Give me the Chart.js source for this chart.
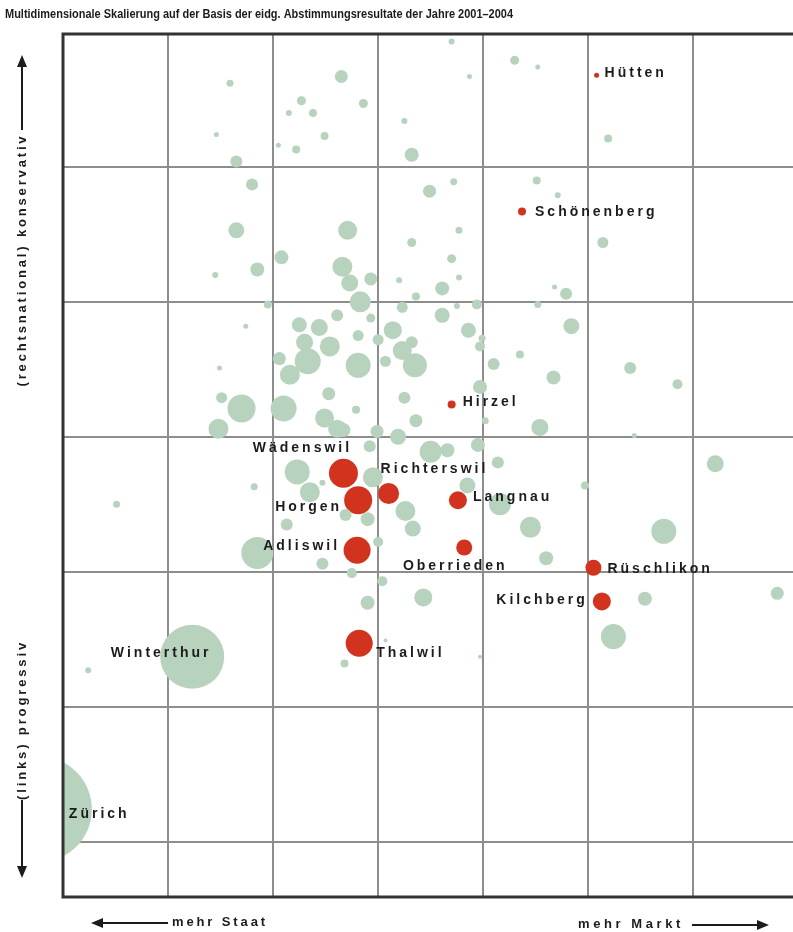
<!DOCTYPE html>
<html lang="de">
<head>
<meta charset="utf-8">
<title>Multidimensionale Skalierung</title>
<script src="https://cdn.jsdelivr.net/npm/chart.js@4.4.1/dist/chart.umd.min.js"></script>
<style>
  html, body { margin: 0; padding: 0; background: #fff; }
  #wrap { width: 793px; height: 932px; }
</style>
</head>
<body>
<div id="wrap"><canvas id="mds" width="793" height="932"></canvas></div>
<script>
// ---- data (MDS-Koordinaten, 1 Einheit = 1 Rasterfeld) ----
const chartTitle = 'Multidimensionale Skalierung auf der Basis der eidg. Abstimmungsresultate der Jahre 2001\u20132004';
const axisUp = '(rechtsnational) konservativ';
const axisDown = '(links) progressiv';
const axisLeft = 'mehr Staat';
const axisRight = 'mehr Markt';

const gridX = [1, 2, 3, 4, 5, 6];
const gridY = [0, 1, 2, 3, 4, 5];

// Bezirk Horgen (rot)
const horgenTowns = ['Hütten', 'Schönenberg', 'Hirzel', 'Wädenswil', 'Richterswil', 'Horgen',
                     'Langnau', 'Adliswil', 'Oberrieden', 'Rüschlikon', 'Kilchberg', 'Thalwil'];
const horgenX = [5.08, 4.37, 3.70, 2.67, 3.10, 2.81, 3.76, 2.80, 3.82, 5.05, 5.13, 2.82];
const horgenY = [5.68, 4.67, 3.24, 2.73, 2.58, 2.53, 2.53, 2.16, 2.18, 2.03, 1.78, 1.47];
const horgenR = [2.5, 4, 4, 14.5, 10.5, 14, 9, 13.5, 8, 8, 9, 13.5];

// grosse Städte (grün, beschriftet)
const cities = ['Winterthur', 'Zürich'];
const cityX = [1.23, -0.23];
const cityY = [1.37, 0.24];
const cityR = [32, 53];

// übrige Gemeinden [x, y, r]
const otherTowns = [
  [1.59, 5.62, 3.5], [2.65, 5.67, 6.5], [2.27, 5.49, 4.5], [2.15, 5.40, 3], [2.38, 5.40, 4],
  [2.86, 5.47, 4.5], [1.46, 5.24, 2.5], [2.49, 5.23, 4], [2.05, 5.16, 2.5], [2.22, 5.13, 4],
  [1.65, 5.04, 6], [1.80, 4.87, 6], [3.25, 5.34, 3], [3.32, 5.09, 7], [3.70, 5.93, 3],
  [3.87, 5.67, 2.5], [4.30, 5.79, 4.5], [4.52, 5.74, 2.5], [5.19, 5.21, 4], [3.49, 4.82, 6.5],
  [3.72, 4.89, 3.5], [4.51, 4.90, 4], [4.71, 4.79, 3], [5.14, 4.44, 5.5], [3.77, 4.53, 3.5],
  [3.32, 4.44, 4.5], [3.70, 4.32, 4.5], [3.77, 4.18, 3], [4.68, 4.11, 2.5], [4.79, 4.06, 6],
  [3.61, 4.10, 7], [3.36, 4.04, 4], [3.23, 3.96, 5.5], [3.75, 3.97, 3], [3.61, 3.90, 7.5],
  [3.94, 3.98, 5], [3.86, 3.79, 7.5], [4.52, 3.98, 3.5], [4.84, 3.82, 8], [3.20, 4.16, 3],
  [1.65, 4.53, 8], [2.71, 4.53, 9.5], [2.08, 4.33, 7], [1.85, 4.24, 7], [1.45, 4.20, 3],
  [2.66, 4.26, 10], [2.73, 4.14, 8.5], [2.93, 4.17, 6.5], [2.83, 4.00, 10.5], [2.61, 3.90, 6],
  [2.93, 3.88, 4.5], [1.95, 3.98, 4], [1.74, 3.82, 2.5], [2.25, 3.83, 7.5], [2.44, 3.81, 8.5],
  [3.14, 3.79, 9], [2.81, 3.75, 5.5], [3.00, 3.72, 5.5], [3.32, 3.70, 6], [3.23, 3.64, 9.5],
  [3.35, 3.53, 12], [3.07, 3.56, 5.5], [2.81, 3.53, 12.5], [2.30, 3.70, 8.5], [2.54, 3.67, 10],
  [2.33, 3.56, 13], [2.06, 3.58, 6.5], [2.16, 3.46, 10], [1.49, 3.51, 2.5], [1.51, 3.29, 5.5],
  [1.70, 3.21, 14], [2.10, 3.21, 13], [2.53, 3.32, 6.5], [2.49, 3.14, 9.5], [2.61, 3.06, 9],
  [1.48, 3.06, 10], [2.79, 3.20, 4], [3.25, 3.29, 6], [3.36, 3.12, 6.5], [2.67, 3.05, 7],
  [2.99, 3.04, 6.5], [3.19, 3.00, 8], [2.92, 2.93, 6], [3.99, 3.73, 3.5], [3.97, 3.67, 5],
  [4.10, 3.54, 6], [3.97, 3.37, 7], [4.35, 3.61, 4], [4.67, 3.44, 7], [5.40, 3.51, 6],
  [5.85, 3.39, 5], [4.02, 3.12, 3.5], [4.54, 3.07, 8.5], [5.44, 3.01, 2.5], [3.50, 2.89, 11],
  [3.66, 2.90, 7], [3.95, 2.94, 7], [4.14, 2.81, 6], [2.23, 2.74, 12.5], [2.35, 2.59, 10],
  [2.47, 2.66, 3], [1.82, 2.63, 3.5], [2.95, 2.70, 10], [0.51, 2.50, 3.5], [3.85, 2.64, 8],
  [4.16, 2.50, 11], [3.26, 2.45, 10], [3.33, 2.32, 8], [4.45, 2.33, 10.5], [4.97, 2.64, 4],
  [6.21, 2.80, 8.5], [5.72, 2.30, 12.5], [2.13, 2.35, 6], [2.69, 2.42, 6], [2.90, 2.39, 7],
  [1.85, 2.14, 16], [2.47, 2.06, 6], [3.00, 2.22, 5], [2.75, 1.99, 5], [3.04, 1.93, 5],
  [4.60, 2.10, 7], [6.80, 1.84, 6.5], [5.54, 1.80, 7], [3.43, 1.81, 9], [2.90, 1.77, 7],
  [5.24, 1.52, 12.5], [3.97, 1.37, 2], [0.24, 1.27, 3], [2.68, 1.32, 4], [3.07, 1.49, 2]
];

// ---- styles ----
const GREEN = '#b7d3bd';
const RED = '#d1331f';
const GRID = '#8d8d8d';
const FRAME = '#333';
const INK = '#1c1c1c';
const LABEL_FONT = 'bold 14px "Liberation Sans", Arial, sans-serif';

// Beschriftungs-Versatz relativ zur Blase (px)
const labelPlace = {
  'Hütten':      { dx: 8,   dy: -2,  align: 'left' },
  'Schönenberg': { dx: 13,  dy: 1,   align: 'left' },
  'Hirzel':      { dx: 11,  dy: -2,  align: 'left' },
  'Wädenswil':   { dx: -41, dy: -25, align: 'center' },
  'Richterswil': { dx: -8,  dy: -24, align: 'left' },
  'Horgen':      { dx: -16, dy: 7,   align: 'right' },
  'Langnau':     { dx: 15,  dy: -3,  align: 'left' },
  'Adliswil':    { dx: -17, dy: -4,  align: 'right' },
  'Oberrieden':  { dx: -9,  dy: 19,  align: 'center' },
  'Rüschlikon':  { dx: 14,  dy: 1,   align: 'left' },
  'Kilchberg':   { dx: -14, dy: -1,  align: 'right' },
  'Thalwil':     { dx: 17,  dy: 10,  align: 'left' },
  'Winterthur':  { dx: -31, dy: -4,  align: 'center' },
  'Zürich':      { dx: 30,  dy: 5,   align: 'left' }
};

// ---- helpers ----
function spacedText(ctx, text, x, y, width, font) {
  ctx.font = font;
  ctx.letterSpacing = '0px';
  const w0 = ctx.measureText(text).width;
  const sp = Math.max(0, (width - w0) / text.length);
  ctx.letterSpacing = sp.toFixed(2) + 'px';
  ctx.textAlign = 'left';
  ctx.textBaseline = 'middle';
  ctx.fillText(text, x - width / 2, y);
  ctx.letterSpacing = '0px';
}

function arrow(ctx, x1, y1, x2, y2) {
  const ang = Math.atan2(y2 - y1, x2 - x1);
  const head = 12, half = 5;
  const bx = x2 - Math.cos(ang) * head, by = y2 - Math.sin(ang) * head;
  ctx.beginPath();
  ctx.moveTo(x1, y1);
  ctx.lineTo(bx, by);
  ctx.stroke();
  ctx.beginPath();
  ctx.moveTo(x2, y2);
  ctx.lineTo(bx + Math.sin(ang) * half, by - Math.cos(ang) * half);
  ctx.lineTo(bx - Math.sin(ang) * half, by + Math.cos(ang) * half);
  ctx.closePath();
  ctx.fill();
}

// Rahmen, Namen, Achsenbeschriftung, Titel
const decorPlugin = {
  id: 'decor',
  afterDatasetsDraw(chart) {
    const { ctx, chartArea: a } = chart;
    ctx.save();

    // Rahmen oben / links / unten
    ctx.strokeStyle = FRAME;
    ctx.lineWidth = 3;
    ctx.beginPath();
    ctx.moveTo(a.right, a.top);
    ctx.lineTo(a.left, a.top);
    ctx.lineTo(a.left, a.bottom);
    ctx.lineTo(a.right, a.bottom);
    ctx.stroke();

    // Gemeindenamen
    ctx.fillStyle = INK;
    ctx.font = LABEL_FONT;
    ctx.letterSpacing = '3px';
    ctx.textBaseline = 'middle';
    chart.data.datasets.forEach((ds, di) => {
      if (!ds.names) return;
      chart.getDatasetMeta(di).data.forEach((el, i) => {
        const name = ds.names[i];
        const p = labelPlace[name];
        if (!p) return;
        ctx.textAlign = p.align;
        ctx.fillText(name, el.x + p.dx, el.y + p.dy);
      });
    });
    ctx.letterSpacing = '0px';
    ctx.restore();
  },
  afterDraw(chart) {
    const { ctx, chartArea: a } = chart;
    ctx.save();
    ctx.fillStyle = INK;
    ctx.strokeStyle = INK;
    ctx.lineWidth = 2;
    const axFont = 'bold 13px "Liberation Sans", Arial, sans-serif';

    // Titel, auf Breite gestaucht
    ctx.font = 'bold 12px "Liberation Sans Narrow", "Liberation Sans", Arial, sans-serif';
    ctx.textBaseline = 'middle';
    ctx.textAlign = 'left';
    const tw = ctx.measureText(chartTitle).width;
    ctx.save();
    ctx.translate(5, 15);
    ctx.scale(508 / tw, 1);
    ctx.fillText(chartTitle, 0, 0);
    ctx.restore();

    // y-Achse (senkrecht)
    const yx = 22;
    arrow(ctx, yx, 130, yx, 55);
    arrow(ctx, yx, 800, yx, 878);
    ctx.save();
    ctx.translate(yx, 260);
    ctx.rotate(-Math.PI / 2);
    spacedText(ctx, axisUp, 0, 0, 253, axFont);
    ctx.restore();
    ctx.save();
    ctx.translate(yx, 720);
    ctx.rotate(-Math.PI / 2);
    spacedText(ctx, axisDown, 0, 0, 160, axFont);
    ctx.restore();

    // x-Achse
    arrow(ctx, a.left + 105, 923, 91, 923);
    spacedText(ctx, axisLeft, 220, 922, 96, axFont);
    spacedText(ctx, axisRight, 631, 924, 106, axFont);
    arrow(ctx, 692, 925, 769, 925);
    ctx.restore();
  }
};

const fixTicks = (vals) => (scale) => { scale.ticks = vals.map(v => ({ value: v })); };

const gridOpts = { color: GRID, lineWidth: 2, drawTicks: false };

new Chart(document.getElementById('mds'), {
  type: 'bubble',
  data: {
    datasets: [
      {
        label: 'übrige Gemeinden',
        data: otherTowns.map(([x, y, r]) => ({ x, y, r })),
        backgroundColor: GREEN,
        borderWidth: 0,
        clip: 0
      },
      {
        label: 'Städte',
        names: cities,
        data: cities.map((_, i) => ({ x: cityX[i], y: cityY[i], r: cityR[i] })),
        backgroundColor: GREEN,
        borderWidth: 0,
        clip: 0
      },
      {
        label: 'Bezirk Horgen',
        names: horgenTowns,
        data: horgenTowns.map((_, i) => ({ x: horgenX[i], y: horgenY[i], r: horgenR[i] })),
        backgroundColor: RED,
        borderWidth: 0,
        clip: 0
      }
    ]
  },
  options: {
    responsive: false,
    animation: false,
    events: [],
    layout: { autoPadding: false, padding: { left: 63, top: 34, right: 0, bottom: 35 } },
    plugins: {
      legend: { display: false },
      tooltip: { enabled: false },
      title: { display: false }
    },
    scales: {
      x: {
        type: 'linear',
        min: 0,
        max: 6.95,
        afterBuildTicks: fixTicks(gridX),
        ticks: { display: false },
        grid: gridOpts,
        border: { display: false }
      },
      y: {
        type: 'linear',
        min: -0.41,
        max: 5.985,
        afterBuildTicks: fixTicks(gridY),
        ticks: { display: false },
        grid: gridOpts,
        border: { display: false }
      }
    }
  },
  plugins: [decorPlugin]
});
</script>
</body>
</html>
